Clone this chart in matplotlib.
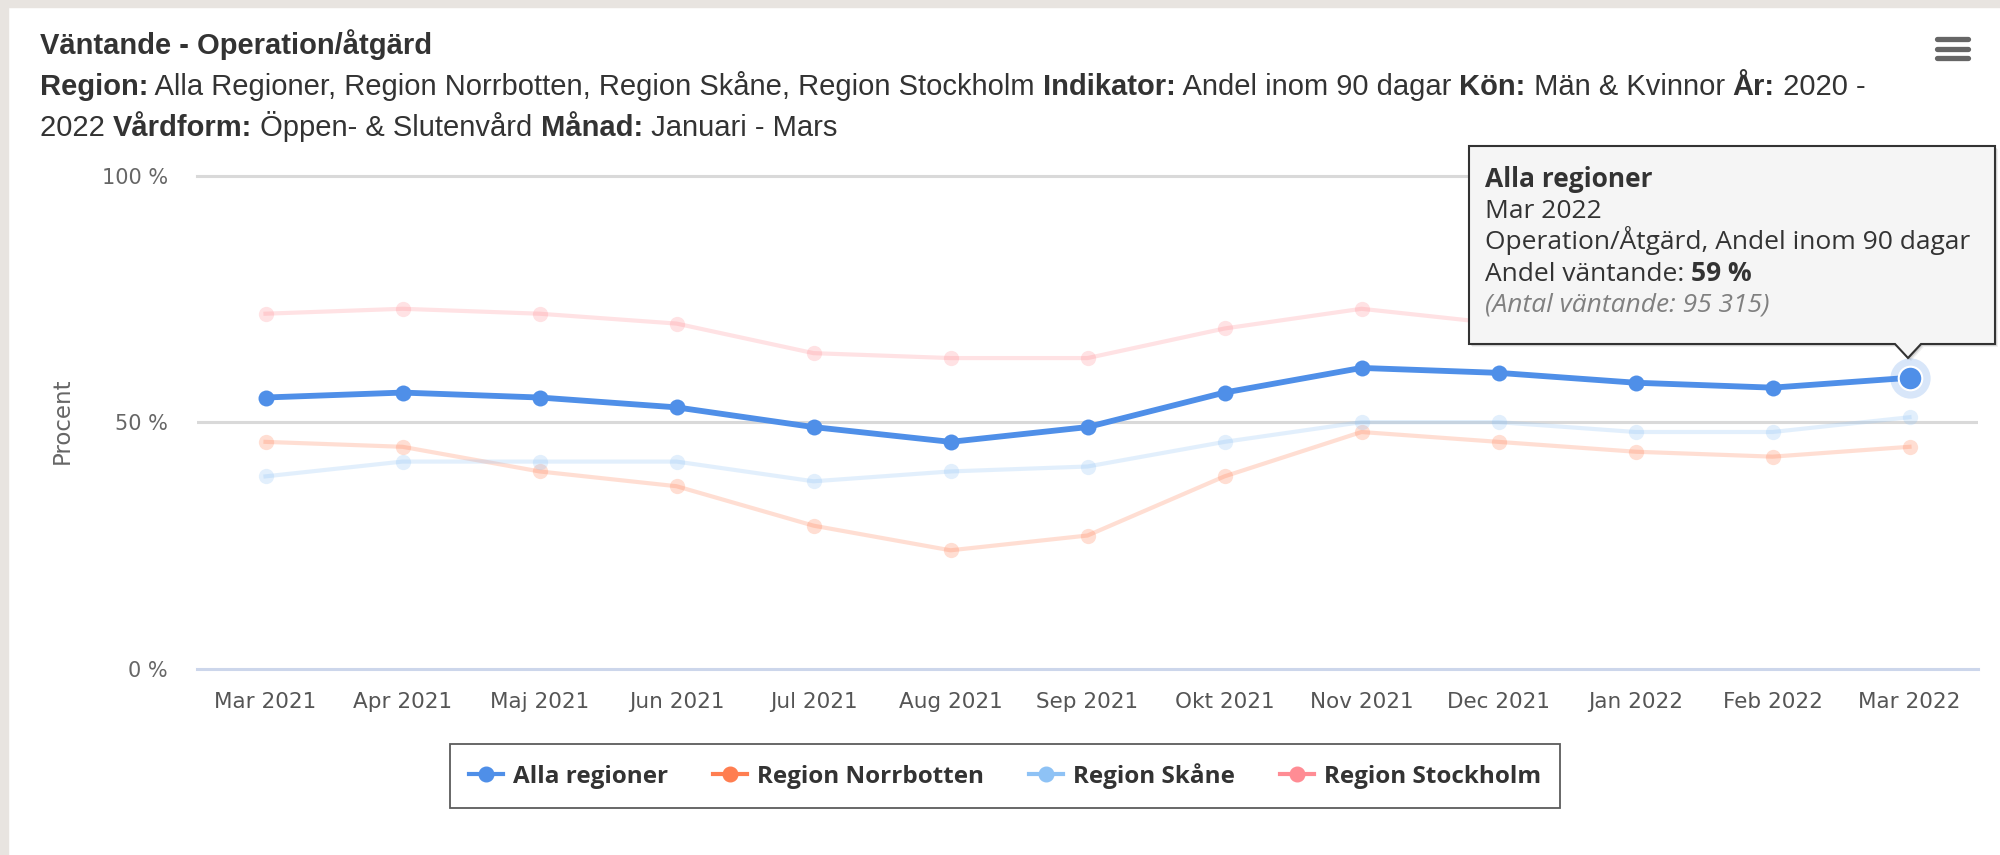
import matplotlib.pyplot as plt
from matplotlib.lines import Line2D
from matplotlib.patches import Polygon, Rectangle

# data
months = ["Mar 2021", "Apr 2021", "Maj 2021", "Jun 2021", "Jul 2021", "Aug 2021", "Sep 2021",
          "Okt 2021", "Nov 2021", "Dec 2021", "Jan 2022", "Feb 2022", "Mar 2022"]
alla = [55, 56, 55, 53, 49, 46, 49, 56, 61, 60, 58, 57, 59]
norrbotten = [46, 45, 40, 37, 29, 24, 27, 39, 48, 46, 44, 43, 45]
skane = [39, 42, 42, 42, 38, 40, 41, 46, 50, 50, 48, 48, 51]
stockholm = [72, 73, 72, 70, 64, 63, 63, 69, 73, 70, 69, 68, 70]
series_names = ["Alla regioner", "Region Norrbotten", "Region Skåne", "Region Stockholm"]
series_colors = ["#4f8fe8", "#ff7e50", "#8ec2f5", "#ff8c94"]
antal_vantande = "95 315"

W, H = 2000, 855
SANS = ["Open Sans", "DejaVu Sans"]
AXF = ["DejaVu Sans"]
ARIAL = ["Liberation Sans", "DejaVu Sans"]

fig = plt.figure(figsize=(W / 100, H / 100), dpi=100, facecolor="white")
renderer = fig.canvas.get_renderer()
inch = fig.dpi_scale_trans


def P(x, y):
    # pixel position measured from top-left -> inches from bottom-left
    return x / 100, (H - y) / 100


# page background strips
fig.add_artist(Rectangle((0, 0), 8 / W, 1, transform=fig.transFigure, color="#e8e4e0", zorder=-5))
fig.add_artist(Rectangle((0, 1 - 7 / H), 1, 7 / H, transform=fig.transFigure, color="#e8e4e0", zorder=-5))


def rich_line(x, y, parts, size, family, color="#333333"):
    for s, weight, style, col in parts:
        t = fig.text(*P(x, y), s, transform=inch, fontsize=size, family=family, fontweight=weight,
                     fontstyle=style, color=col or color, va="baseline", ha="left")
        x += t.get_window_extent(renderer).width


# title and subtitle
fig.text(*P(40, 54), "Väntande - Operation/åtgärd", transform=inch, fontsize=21, family=ARIAL,
         fontweight="bold", color="#333333", va="baseline")
rich_line(40, 95, [("Region:", "bold", "normal", None),
                   (" Alla Regioner, Region Norrbotten, Region Skåne, Region Stockholm ", "normal", "normal", None),
                   ("Indikator:", "bold", "normal", None), (" Andel inom 90 dagar ", "normal", "normal", None),
                   ("Kön:", "bold", "normal", None), (" Män & Kvinnor ", "normal", "normal", None),
                   ("År:", "bold", "normal", None), (" 2020 -", "normal", "normal", None)], 21, ARIAL)
rich_line(40, 136, [("2022 ", "normal", "normal", None), ("Vårdform:", "bold", "normal", None),
                    (" Öppen- & Slutenvård ", "normal", "normal", None), ("Månad:", "bold", "normal", None),
                    (" Januari - Mars", "normal", "normal", None)], 21, ARIAL)

# hamburger menu
for yy in (39, 48.5, 58):
    fig.add_artist(Line2D([19.37, 19.68], [(H - yy) / 100] * 2, transform=inch, color="#666666",
                          lw=3.8, solid_capstyle="round"))

# plot area
ax = fig.add_axes([197 / W, (H - 668.6) / H, (1978 - 197) / W, (668.6 - 175.7) / H])
x = list(range(len(months)))
ax.set_xlim(-0.5, len(months) - 0.5)
ax.set_ylim(0, 100)
for s in ax.spines.values():
    s.set_visible(False)
ax.axhline(100, color="#d9d9d9", lw=2.2, clip_on=False, zorder=0)
ax.axhline(50, color="#d9d9d9", lw=2.2, zorder=0)
ax.axhline(0, color="#ccd6eb", lw=2.2, clip_on=False, zorder=0)
ax.set_xticks(x)
ax.set_xticklabels(months, family=AXF, fontsize=15.5, color="#555555")
ax.set_yticks([0, 50, 100])
ax.set_yticklabels([f"{v} %" for v in (0, 50, 100)], family=AXF, fontsize=15, color="#666666")
ax.tick_params(axis="x", length=0, pad=17)
ax.tick_params(axis="y", length=0, pad=21)
fig.text(*P(62, 421), "Procent", transform=inch, rotation=90, ha="center", va="center",
         family=AXF, fontsize=16.5, color="#666666")

# faded (inactive) series
for vals, c in zip([norrbotten, skane, stockholm], series_colors[1:]):
    ax.plot(x, vals, color=c, lw=3, marker="o", ms=11, mew=0, alpha=0.25, zorder=2)
# active series
ax.plot(x, alla, color=series_colors[0], lw=4.2, marker="o", ms=11.5, mew=0, zorder=3)
ax.plot(x[-1], alla[-1], "o", ms=29, mew=0, color=series_colors[0], alpha=0.22, zorder=4)
ax.plot(x[-1], alla[-1], "o", ms=17, mfc=series_colors[0], mec="white", mew=1.5, zorder=5)

# legend
handles = [Line2D([], [], color=c, lw=3, marker="o", ms=10.5) for c in series_colors]
leg = ax.legend(handles, series_names, ncol=4, loc="center", bbox_to_anchor=(1005 / W, 79 / H),
                bbox_transform=fig.transFigure, frameon=True, fancybox=False, edgecolor="#333333",
                prop={"family": SANS, "weight": "bold", "size": 17.5}, handlelength=1.4,
                handletextpad=0.41, columnspacing=1.85, borderpad=0.8)
leg.get_frame().set_linewidth(1.3)
for t in leg.get_texts():
    t.set_color("#333333")

# tooltip
x0, y0, x1, y1, px = 1469, 146, 1995, 344, 1908
outline = [P(x0, y0), P(x1, y0), P(x1, y1), P(px + 13, y1), P(px, y1 + 14), P(px - 13, y1), P(x0, y1)]
for off, a in ((3, 0.06), (2, 0.1), (1, 0.15)):
    fig.add_artist(Polygon([(a_ + off / 100, b_ - off / 100) for a_, b_ in outline], closed=True,
                           transform=inch, facecolor="black", edgecolor="none", alpha=a, zorder=9))
fig.add_artist(Polygon(outline, closed=True, transform=inch, facecolor="#f5f5f5",
                       edgecolor="#333333", lw=1.5, zorder=10))
tips = [
    [("Alla regioner", "bold", "normal", None)],
    [(months[-1], "normal", "normal", None)],
    [("Operation/Åtgärd, Andel inom 90 dagar", "normal", "normal", None)],
    [("Andel väntande: ", "normal", "normal", None), (f"{alla[-1]} %", "bold", "normal", None)],
    [(f"(Antal väntande: {antal_vantande})", "normal", "italic", "#808080")],
]
for i, parts in enumerate(tips):
    before = len(fig.texts)
    rich_line(1485, 187 + i * 31.2, parts, 19, SANS)
    for t in fig.texts[before:]:
        t.set_zorder(11)

fig.savefig("out.png", dpi=100, facecolor=fig.get_facecolor())
